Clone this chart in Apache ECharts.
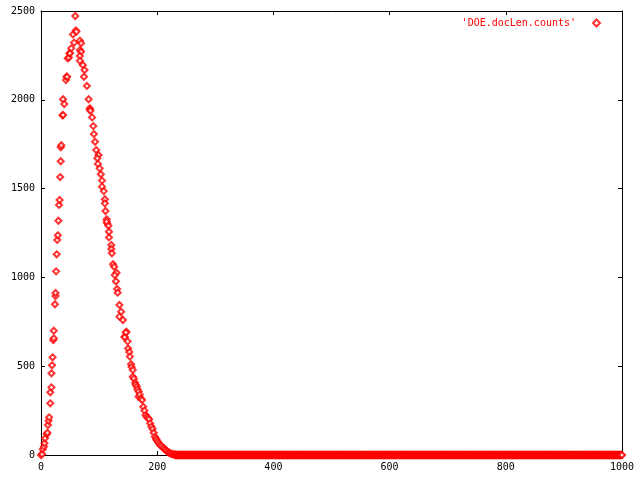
<!DOCTYPE html>
<html>
<head>
<meta charset="utf-8">
<script src="https://cdn.jsdelivr.net/npm/echarts@6/dist/echarts.min.js"></script>
<style>html,body{margin:0;padding:0;background:#fff}#c{width:640px;height:480px}</style>
</head>
<body>
<div id="c"></div>
<script>
// document length (x) and number of documents (y)
const seriesName = "'DOE.docLen.counts'";
const docLengths = [
  0,2,3,5,6,7,10,11,12,13,14,16,16,18,18,19,20,21,22,22,24,25,25,26,27,28,29,30,31,32,33,34,34,35,37,38,38,40,43,44,45,46,48,49,50,52,55,57,59,60,61,
  67,69,67,69,67,67,72,75,74,79,82,84,84,85,88,90,91,93,95,99,97,98,101,103,105,105,108,110,110,111,113,114,113,116,117,117,121,121,122,124,126,130,127,129,131,132,135,138,135,141,147,144,146,144,
  149,150,152,153,155,156,158,158,160,162,163,165,166,168,168,170,172,174,176,178,180,182,184,186,188,190,192,194,196,198,199,201,203,205,207,210,212,214,216,218,220,222,224,226,228,230
];
const docCounts = [
  0,5,32,47,66,94,118,125,169,193,212,291,353,381,460,505,550,647,657,700,849,895,912,1034,1130,1211,1237,1319,1408,1436,1565,1654,1733,1744,1913,1914,2003,1976,2111,2130,2130,2233,2239,2262,2262,2290,2368,2322,2472,2390,2384,
  2333,2318,2280,2271,2247,2220,2196,2168,2130,2078,2003,1952,1945,1938,1901,1852,1807,1764,1717,1689,1671,1639,1614,1581,1545,1511,1486,1440,1417,1374,1327,1304,1314,1291,1257,1225,1182,1160,1136,1074,1060,1026,1013,978,935,914,845,807,779,760,694,666,689,663,
  640,600,580,554,511,495,479,441,430,407,395,385,370,357,328,340,318,310,272,250,225,215,208,201,178,160,146,125,103,92,84,75,65,56,50,43,35,30,24,18,14,10,7,5,4,3
];
// from length 231 up to 1000 every count reads as 0
const tailFirstLength = 231;
const tailLastLength = 1000;
const tailCount = 0;

const xTicks = [0, 200, 400, 600, 800, 1000];
const yTicks = [0, 500, 1000, 1500, 2000, 2500];

const points = docLengths.map((x, i) => [x, docCounts[i]]);
for (let x = tailFirstLength; x <= tailLastLength; x++) points.push([x, tailCount]);

const font = { fontFamily: 'DejaVu Sans Mono', fontSize: 10, color: '#000', formatter: v => String(v) };
const axisLine = { show: true, onZero: false, lineStyle: { color: '#000', width: 1 } };
const tick = { show: true, inside: true, length: 4, lineStyle: { color: '#000' } };

const chart = echarts.init(document.getElementById('c'), null, { renderer: 'canvas' });
chart.setOption({
  animation: false,
  backgroundColor: '#fff',
  grid: { left: 41, right: 18, top: 11, bottom: 25 },
  legend: {
    right: 34, top: 13,
    align: 'right',
    icon: 'emptyDiamond',
    itemWidth: 7, itemHeight: 7,
    textStyle: { fontFamily: 'DejaVu Sans Mono', fontSize: 10, color: '#ff0000', padding: [0, 12, 0, 0] },
    data: [seriesName]
  },
  xAxis: [
    { type: 'value', min: xTicks[0], max: xTicks[xTicks.length - 1], interval: xTicks[1] - xTicks[0],
      axisLine, axisTick: tick, splitLine: { show: false },
      axisLabel: Object.assign({ margin: 7 }, font) },
    { type: 'value', position: 'top', min: xTicks[0], max: xTicks[xTicks.length - 1], interval: xTicks[1] - xTicks[0],
      axisLine, axisTick: tick, splitLine: { show: false }, axisLabel: { show: false } }
  ],
  yAxis: [
    { type: 'value', min: yTicks[0], max: yTicks[yTicks.length - 1], interval: yTicks[1] - yTicks[0],
      axisLine, axisTick: tick, splitLine: { show: false },
      axisLabel: Object.assign({ margin: 6 }, font) },
    { type: 'value', position: 'right', min: yTicks[0], max: yTicks[yTicks.length - 1], interval: yTicks[1] - yTicks[0],
      axisLine, axisTick: tick, splitLine: { show: false }, axisLabel: { show: false } }
  ],
  series: [{
    name: seriesName,
    type: 'scatter',
    clip: false,
    symbol: 'emptyDiamond',
    symbolSize: 6,
    itemStyle: { color: '#ff0000', borderColor: '#ff0000', borderWidth: 1 },
    data: points
  }]
});
</script>
</body>
</html>
